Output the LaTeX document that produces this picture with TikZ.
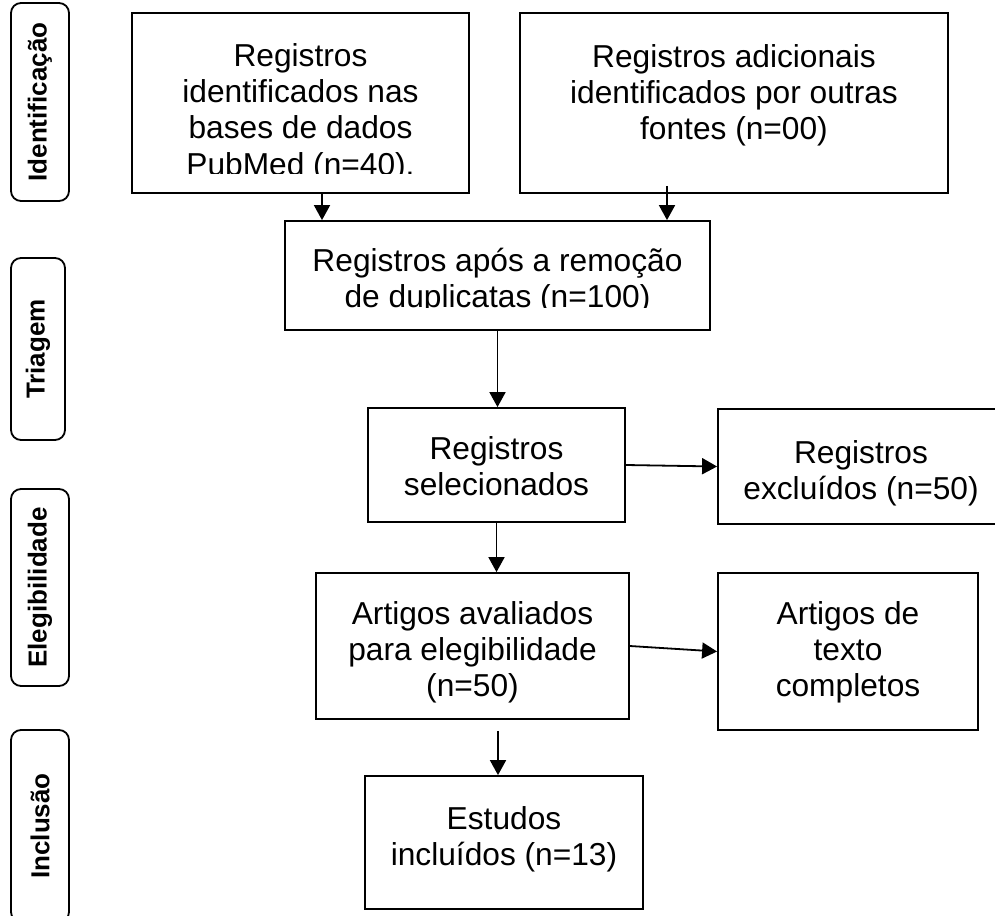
\documentclass[tikz,border=0pt]{standalone}
\usepackage{fontspec}
\setmainfont{Liberation Sans}
\usetikzlibrary{arrows.meta}
\begin{document}
\begin{tikzpicture}[x=1pt,y=-1pt,
  box/.style={draw,line width=1.8pt,inner sep=0pt},
  txt/.style={inner sep=0pt,align=center,anchor=base,font=\fontsize{31.7}{36.4}\selectfont},
  lab/.style={draw,line width=1.8pt,rounded corners=10pt,inner sep=0pt,rotate=90,font=\bfseries\fontsize{26}{30}\selectfont},
  arr/.style={line width=1.8pt,-{Triangle[width=16pt,length=15pt]}}]
\clip (0,0) rectangle (995,915);
% phase labels
\node[lab,minimum width=198pt,minimum height=58pt] (l1) at (40,102) {Identificação};
\node[lab,minimum width=182pt,minimum height=54pt] (l2) at (38,349) {Triagem};
\node[lab,minimum width=197pt,minimum height=58pt] (l3) at (40,587.5) {Elegibilidade};
\node[lab,minimum width=192pt,minimum height=58pt] (l4) at (40,826) {Inclusão};
% boxes
\node[box,minimum width=337pt,minimum height=180pt] (A) at (300.5,103) {};
\node[box,minimum width=428pt,minimum height=180pt] (B) at (734,103) {};
\node[box,minimum width=425pt,minimum height=109pt] (C) at (497.5,275.5) {};
\node[box,minimum width=257pt,minimum height=114pt] (D) at (496.5,465) {};
\node[box,minimum width=286pt,minimum height=115pt] (E) at (861,466.5) {};
\node[box,minimum width=313pt,minimum height=146pt] (F) at (472.5,646) {};
\node[box,minimum width=260pt,minimum height=157pt] (G) at (848,651.5) {};
\node[box,minimum width=278pt,minimum height=133pt] (H) at (504,842.5) {};
% texts (anchor = baseline of last line)
\begin{scope}
\clip (133,14) rectangle (468,173);
\node[txt] (tA) at (300.5,175.2) {Registros\\identificados nas\\bases de dados\\PubMed (n=40).};
\end{scope}
\node[txt] (tB) at (734,139.8) {Registros adicionais\\identificados por outras\\fontes (n=00)};
\begin{scope}
\clip (286,222) rectangle (709,307);
\node[txt] (tC) at (497.5,307.4) {Registros após a remoção\\de duplicatas (n=100)};
\end{scope}
\node[txt] (tD) at (496.5,495.4) {Registros\\selecionados};
\node[txt] (tE) at (861,499.4) {Registros\\excluídos (n=50)};
\node[txt] (tF) at (472.5,696.8) {Artigos avaliados\\para elegibilidade\\(n=50)};
\node[txt] (tG) at (848,696.8) {Artigos de\\texto\\completos};
\node[txt] (tH) at (504,865.4) {Estudos\\incluídos (n=13)};
% arrows
\coordinate (as) at ([xshift=21.5pt]A.south);
\draw[arr] (as) -- (as |- C.north);
\coordinate (bs) at ([xshift=-67pt,yshift=8pt]B.south);
\draw[arr] (bs) -- (bs |- C.north);
\draw[arr] (C.south) -- (C.south |- D.north);
\draw[arr] (D.east) -- (E.west);
\draw[arr] (D.south) -- (D.south |- F.north);
\draw[arr] (F.east) -- (G.west);
\coordinate (fs) at ([yshift=-11pt]F.south);
\coordinate (hn) at ([xshift=-6pt]H.north);
\draw[arr] (hn |- fs) -- (hn);
\end{tikzpicture}
\end{document}
